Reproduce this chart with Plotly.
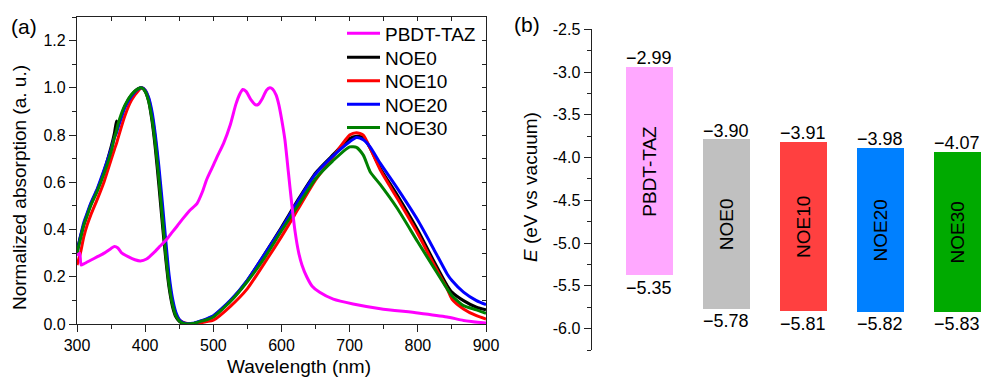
import plotly.graph_objects as go

# ---------------- Panel (a): absorption spectra ----------------
wl_ptaz = [300, 304, 306, 310, 320, 330, 340, 350, 355, 360, 366, 375, 385, 393, 402, 412, 422, 432,
           440, 447, 455, 465, 476, 484, 490, 498, 505, 515, 525, 533, 539, 543, 548, 555, 562, 566,
           572, 578, 583, 587, 592, 596, 600, 605, 610, 615, 620, 625, 630, 637, 645, 656, 676, 705,
           745, 800, 843, 867, 900]
abs_ptaz = [0.29, 0.30, 0.25, 0.255, 0.27, 0.285, 0.30, 0.32, 0.328, 0.322, 0.30, 0.285, 0.272, 0.267,
            0.275, 0.30, 0.33, 0.36, 0.39, 0.415, 0.445, 0.48, 0.51, 0.56, 0.61, 0.66, 0.705, 0.765,
            0.845, 0.93, 0.975, 0.993, 0.985, 0.95, 0.928, 0.93, 0.955, 0.99, 1.0, 0.995, 0.97, 0.93,
            0.87, 0.78, 0.645, 0.51, 0.39, 0.305, 0.25, 0.20, 0.16, 0.134, 0.105, 0.085, 0.065, 0.047,
            0.03, 0.015, 0.004]

wl_noe = [300, 305, 310, 315, 320, 330, 340, 350, 355, 358, 360, 370, 380, 390, 395, 400, 405, 410,
          415, 420, 425, 430, 435, 440, 445, 450, 455, 462, 470, 480, 490, 500, 525, 550, 575, 600,
          625, 650, 675, 700, 710, 720, 730, 745, 770, 800, 823, 843, 850, 867, 886, 900]
abs_noe0 = [0.31, 0.37, 0.42, 0.465, 0.505, 0.57, 0.65, 0.75, 0.81, 0.86, 0.84, 0.92, 0.97, 0.997, 1.0,
            0.985, 0.945, 0.86, 0.74, 0.59, 0.43, 0.28, 0.155, 0.075, 0.03, 0.011, 0.003, 0.0, 0.002,
            0.01, 0.02, 0.033, 0.098, 0.185, 0.295, 0.41, 0.53, 0.64, 0.715, 0.785, 0.795, 0.79, 0.745,
            0.659, 0.545, 0.397, 0.269, 0.163, 0.135, 0.099, 0.071, 0.06]
abs_noe10 = [0.25, 0.30, 0.37, 0.42, 0.46, 0.53, 0.605, 0.695, 0.74, 0.765, 0.785, 0.88, 0.948, 0.988,
             1.0, 0.99, 0.955, 0.885, 0.78, 0.64, 0.48, 0.32, 0.185, 0.095, 0.042, 0.018, 0.008, 0.002,
             0.0, 0.004, 0.01, 0.016, 0.075, 0.15, 0.258, 0.37, 0.49, 0.61, 0.705, 0.80, 0.81, 0.80,
             0.745, 0.652, 0.531, 0.382, 0.255, 0.149, 0.106, 0.064, 0.035, 0.021]
abs_noe20 = [0.30, 0.37, 0.43, 0.47, 0.51, 0.575, 0.655, 0.74, 0.79, 0.81, 0.83, 0.915, 0.965, 0.995,
             1.0, 0.99, 0.96, 0.90, 0.80, 0.67, 0.52, 0.36, 0.21, 0.11, 0.05, 0.02, 0.007, 0.001, 0.003,
             0.012, 0.022, 0.035, 0.10, 0.186, 0.295, 0.405, 0.525, 0.635, 0.71, 0.772, 0.79, 0.78,
             0.75, 0.68, 0.574, 0.439, 0.319, 0.212, 0.184, 0.135, 0.099, 0.082]
abs_noe30 = [0.30, 0.36, 0.42, 0.46, 0.50, 0.565, 0.64, 0.73, 0.79, 0.82, 0.845, 0.925, 0.972, 0.997,
             1.0, 0.985, 0.945, 0.87, 0.76, 0.62, 0.46, 0.30, 0.17, 0.085, 0.035, 0.013, 0.004, 0.0,
             0.002, 0.01, 0.018, 0.03, 0.095, 0.18, 0.28, 0.395, 0.505, 0.615, 0.69, 0.75, 0.748, 0.715,
             0.645, 0.59, 0.489, 0.347, 0.241, 0.149, 0.12, 0.078, 0.06, 0.045]

series_names = ["PBDT-TAZ", "NOE0", "NOE10", "NOE20", "NOE30"]
line_colors = ["#FF00FF", "#000000", "#FF0000", "#0000FF", "#008000"]

# ---------------- Panel (b): energy levels ----------------
bar_names = ["PBDT-TAZ", "NOE0", "NOE10", "NOE20", "NOE30"]
lumo_level = [-2.94, -3.79, -3.82, -3.89, -3.94]      # drawn bar tops
homo_level = [-5.38, -5.77, -5.80, -5.81, -5.81]      # drawn bar bottoms
lumo_labels = ["\u22122.99", "\u22123.90", "\u22123.91", "\u22123.98", "\u22124.07"]
homo_labels = ["\u22125.35", "\u22125.78", "\u22125.81", "\u22125.82", "\u22125.83"]
bar_colors = ["#FFA8FF", "#C0C0C0", "#FF4040", "#0080FF", "#00AA00"]
e_tickvals = [-6.0, -5.5, -5.0, -4.5, -4.0, -3.5, -3.0, -2.5]
e_ticktext = ["-6.0", "-5.5", "-5.0", "-4.5", "-4.0", "-3.5", "-3.0", "-2.5"]

FONT = "Liberation Sans, Arial, sans-serif"
W, H = 984, 377
def px_x(p): return p / W
def px_y(p): return 1 - p / H

fig = go.Figure()

legend_ids = ["legend", "legend2", "legend3", "legend4", "legend5"]
legend_rows_px = [33.5, 57.5, 81.0, 104.3, 127.7]

ys = [abs_noe0, abs_noe10, abs_noe20, abs_noe30]
for i, y in enumerate(ys):
    fig.add_trace(go.Scatter(
        x=wl_noe, y=y, mode="lines", name=series_names[i + 1], legend=legend_ids[i + 1],
        line=dict(color=line_colors[i + 1], width=3, shape="spline", smoothing=0.6),
        xaxis="x", yaxis="y"))
fig.add_trace(go.Scatter(
    x=wl_ptaz, y=abs_ptaz, mode="lines", name=series_names[0], legend=legend_ids[0],
    line=dict(color=line_colors[0], width=3, shape="spline", smoothing=0.6),
    xaxis="x", yaxis="y"))

# helper (invisible) to activate mirror axes with inward ticks
fig.add_trace(go.Scatter(x=[wl_noe[0]], y=[abs_noe0[0]], mode="markers",
                         marker=dict(opacity=0), showlegend=False, hoverinfo="skip",
                         xaxis="x3", yaxis="y3"))

# bars
heights = [l - h for l, h in zip(lumo_level, homo_level)]
xs = list(range(len(bar_names)))
fig.add_trace(go.Bar(
    x=xs, y=heights, base=homo_level, marker=dict(color=bar_colors, line=dict(width=0)),
    width=0.61, text=bar_names, textposition="inside", textangle=-90,
    insidetextanchor="middle", insidetextfont=dict(family=FONT, size=19, color="black"),
    showlegend=False, xaxis="x2", yaxis="y2", hoverinfo="skip"))

annotations = []
for i in xs:
    annotations.append(dict(x=i, y=lumo_level[i], xref="x2", yref="y2", text=lumo_labels[i],
                            showarrow=False, xanchor="center", yanchor="bottom", yshift=-3,
                            font=dict(family=FONT, size=18, color="black")))
    annotations.append(dict(x=i, y=homo_level[i], xref="x2", yref="y2", text=homo_labels[i],
                            showarrow=False, xanchor="center", yanchor="top", yshift=0,
                            font=dict(family=FONT, size=18, color="black")))

annotations += [
    dict(x=px_x(298.6), y=px_y(354), xref="paper", yref="paper", text="Wavelength (nm)",
         showarrow=False, xanchor="center", yanchor="top", font=dict(family=FONT, size=19, color="black")),
    dict(x=px_x(20), y=px_y(188), xref="paper", yref="paper", text="Normalized absorption (a. u.)",
         textangle=-90, showarrow=False, xanchor="center", yanchor="middle",
         font=dict(family=FONT, size=19, color="black")),
    dict(x=px_x(530), y=px_y(187), xref="paper", yref="paper", text="<i>E</i> (eV vs vacuum)",
         textangle=-90, showarrow=False, xanchor="center", yanchor="middle",
         font=dict(family=FONT, size=19, color="black")),
    dict(x=px_x(24), y=px_y(26.5), xref="paper", yref="paper", text="(a)", showarrow=False,
         xanchor="center", yanchor="middle", font=dict(family=FONT, size=21, color="black")),
    dict(x=px_x(527), y=px_y(24), xref="paper", yref="paper", text="(b)", showarrow=False,
         xanchor="center", yanchor="middle", font=dict(family=FONT, size=21, color="black")),
]

legend_layout = {}
for lid, row in zip(legend_ids, legend_rows_px):
    legend_layout[lid] = dict(x=px_x(342), y=px_y(row), xanchor="left", yanchor="middle",
                              bgcolor="rgba(0,0,0,0)", borderwidth=0,
                              font=dict(family=FONT, size=19, color="black"), itemwidth=33)

AX = "#222222"
dom_x1 = [px_x(77), px_x(486)]
dom_y1 = [px_y(324), px_y(17)]
fig.update_layout(
    template="none",
    width=W, height=H, margin=dict(l=0, r=0, t=0, b=0, autoexpand=False),
    paper_bgcolor="white", plot_bgcolor="rgba(0,0,0,0)",
    font=dict(family=FONT, size=16, color="black"),
    showlegend=True,
    xaxis=dict(domain=dom_x1, anchor="y", range=[300, 900], dtick=100, tick0=300, automargin=False,
               ticks="outside", ticklen=7, tickwidth=1.2, tickcolor=AX,
               showline=True, linecolor=AX, linewidth=1.3, showgrid=False, zeroline=False,
               tickfont=dict(size=16), minor=dict(dtick=50, ticks="outside", ticklen=4,
                                                  tickwidth=1.2, tickcolor=AX)),
    yaxis=dict(domain=dom_y1, anchor="x", range=[0, 1.3], dtick=0.2, tick0=0, tickformat=".1f",
               automargin=False,
               ticks="outside", ticklen=7, tickwidth=1.2, tickcolor=AX,
               showline=True, linecolor=AX, linewidth=1.3, showgrid=False, zeroline=False,
               tickfont=dict(size=16), minor=dict(dtick=0.1, ticks="outside", ticklen=4,
                                                  tickwidth=1.2, tickcolor=AX)),
    xaxis3=dict(overlaying="x", anchor="y3", side="top", range=[300, 900], dtick=100, tick0=300,
                automargin=False,
                ticks="inside", ticklen=4, tickwidth=1.2, tickcolor=AX, showticklabels=False,
                showline=True, linecolor=AX, linewidth=1.3, showgrid=False, zeroline=False,
                minor=dict(dtick=50, ticks="inside", ticklen=4, tickwidth=1.2, tickcolor=AX)),
    yaxis3=dict(overlaying="y", anchor="x3", side="right", range=[0, 1.3], dtick=0.2, tick0=0,
                automargin=False,
                ticks="inside", ticklen=4, tickwidth=1.2, tickcolor=AX, showticklabels=False,
                showline=True, linecolor=AX, linewidth=1.3, showgrid=False, zeroline=False,
                minor=dict(dtick=0.1, ticks="inside", ticklen=4, tickwidth=1.2, tickcolor=AX)),
    xaxis2=dict(domain=[px_x(590.7), 1.0], anchor="y2", range=[-0.757, 4.35], automargin=False,
                showline=False, showticklabels=False, ticks="", showgrid=False, zeroline=False),
    yaxis2=dict(domain=[px_y(350), px_y(29.3)], anchor="free", position=px_x(590.7),
                range=[-6.25, -2.5], tickvals=e_tickvals, ticktext=e_ticktext, automargin=False,
                ticks="outside", ticklen=7, tickwidth=1.2, tickcolor=AX,
                showline=True, linecolor=AX, linewidth=1.3, showgrid=False, zeroline=False,
                tickfont=dict(size=16),
                minor=dict(dtick=0.25, tick0=-2.5, ticks="outside", ticklen=4, tickwidth=1.2,
                           tickcolor=AX)),
    annotations=annotations,
    bargap=0,
    **legend_layout,
)

fig.write_html("out.html", config={"displayModeBar": False},
               post_script="document.body.style.margin='0';document.body.style.overflow='hidden';")
